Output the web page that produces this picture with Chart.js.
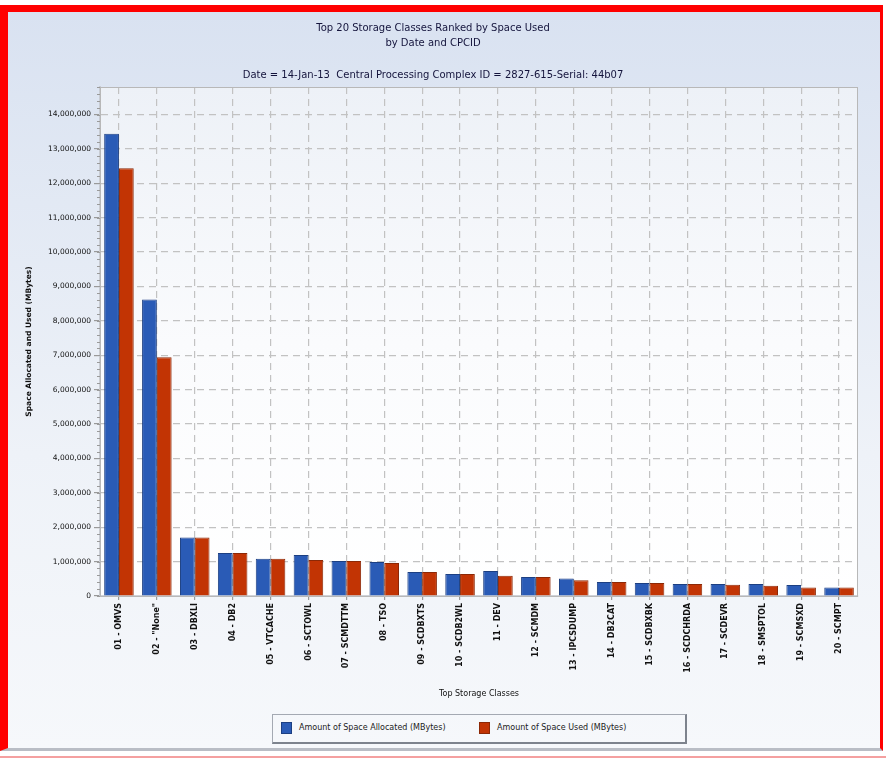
<!DOCTYPE html>
<html>
<head>
<meta charset="utf-8">
<script src="https://cdn.jsdelivr.net/npm/chart.js@4/dist/chart.umd.min.js"></script>
<style>
    body { margin: 0; background: #fff; width: 886px; height: 759px; overflow: hidden; position: relative; }
    #frame {
        position: absolute; left: 0; top: 5px; width: 883px; height: 746px; box-sizing: border-box;
        border-left: 8px solid #f00; border-top: 7px solid #f00; border-right: 3px solid #f00;
        border-bottom: 3px solid #b9bdc5;
        background: linear-gradient(#d9e2f1, #eef2f8 60%, #f6f8fb);
    }
    #chart { position: absolute; left: 0; top: 0; }
    #pink { position: absolute; left: 0; top: 756px; width: 886px; height: 2px; background: #f4a0a0; }
    #legend {
        position: absolute; left: 264px; top: 702px; width: 412px; height: 27px;
        border: 1px solid #a4a9b2; border-right: 2px solid #7d838d; border-bottom: 2px solid #7d838d;
        font: 8px "DejaVu Sans", sans-serif; color: #222;
    }
    .item { position: absolute; top: 6px; height: 13px; line-height: 13px; }
    .box { display: inline-block; width: 11px; height: 12px; vertical-align: middle; margin-right: 7px; box-sizing: border-box; }
</style>
</head>
<body>
<div id="frame">
    <canvas id="chart" width="872" height="700"></canvas>
    <div id="legend">
        <div class="item" style="left:8px"><span class="box" style="background:#2a5bb6;border:1px solid #1c3f82"></span>Amount of Space Allocated (MBytes)</div>
        <div class="item" style="left:206px"><span class="box" style="background:#c23404;border:1px solid #8c2806"></span>Amount of Space Used (MBytes)</div>
    </div>
</div>
<div id="pink"></div>
<script>
    const storageClasses = [
        '01 - OMVS', '02 - "None"', '03 - DBXLI', '04 - DB2', '05 - VTCACHE',
        '06 - SCTOWL', '07 - SCMDTTM', '08 - TSO', '09 - SCDBXTS', '10 - SCDB2WL',
        '11 - DEV', '12 - SCMDM', '13 - IPCSDUMP', '14 - DB2CAT', '15 - SCDBXBK',
        '16 - SCDCHRDA', '17 - SCDEVR', '18 - SMSPTOL', '19 - SCMSXD', '20 - SCMPT'
    ];
    const spaceAllocated = [13440000, 8620000, 1700000, 1250000, 1080000, 1190000, 1020000, 990000, 700000, 640000,
        730000, 550000, 510000, 410000, 380000, 350000, 350000, 350000, 320000, 250000];
    const spaceUsed = [12440000, 6940000, 1700000, 1250000, 1080000, 1050000, 1020000, 960000, 700000, 640000,
        590000, 550000, 460000, 410000, 380000, 350000, 330000, 300000, 250000, 250000];
    const yTickValues = [0, 1000000, 2000000, 3000000, 4000000, 5000000, 6000000, 7000000,
        8000000, 9000000, 10000000, 11000000, 12000000, 13000000, 14000000];

    const titleColor = '#14143c';
    const gridColor = '#c2c2c2';

    // plot background gradient + frame + minor ticks on the y axis
    const plotDecor = {
        id: 'plotDecor',
        beforeDraw(chart) {
            const {ctx, chartArea: a} = chart;
            const g = ctx.createLinearGradient(0, a.top, 0, a.bottom);
            g.addColorStop(0, '#edf1f7');
            g.addColorStop(0.5, '#fafbfd');
            g.addColorStop(1, '#ffffff');
            ctx.save();
            ctx.fillStyle = g;
            ctx.fillRect(a.left, a.top, a.right - a.left, a.bottom - a.top);
            ctx.restore();
        },
        afterDraw(chart) {
            const {ctx, chartArea: a} = chart;
            const y = chart.scales.y;
            ctx.save();
            ctx.strokeStyle = '#b8b8b8';
            ctx.lineWidth = 1;
            ctx.strokeRect(a.left + 0.5, a.top + 0.5, a.right - a.left - 1, a.bottom - a.top);
            ctx.strokeStyle = '#9a9a9a';
            ctx.beginPath();
            for (let v = 0; v <= y.max; v += 200000) {
                const py = Math.round(y.getPixelForValue(v)) + 0.5;
                ctx.moveTo(a.left - 3, py);
                ctx.lineTo(a.left, py);
            }
            ctx.stroke();
            ctx.restore();
        }
    };

    new Chart(document.getElementById('chart'), {
        type: 'bar',
        data: {
            labels: storageClasses,
            datasets: [{
                label: 'Amount of Space Allocated (MBytes)',
                data: spaceAllocated,
                backgroundColor: '#2a5bb6',
                borderColor: '#1c3f82',
                borderWidth: 1,
                barPercentage: 1,
                categoryPercentage: 0.78
            }, {
                label: 'Amount of Space Used (MBytes)',
                data: spaceUsed,
                backgroundColor: '#c23404',
                borderColor: '#8c2806',
                borderWidth: 1,
                barPercentage: 1,
                categoryPercentage: 0.78
            }]
        },
        options: {
            responsive: false,
            animation: false,
            layout: {padding: {right: 22, left: 0, top: 0, bottom: 0}},
            plugins: {
                legend: {display: false},
                tooltip: {enabled: false},
                title: {
                    display: true,
                    text: ['Top 20 Storage Classes Ranked by Space Used', 'by Date and CPCID'],
                    color: titleColor,
                    font: {family: 'DejaVu Sans', size: 10, weight: 'normal', lineHeight: 1.5},
                    padding: {top: 9, bottom: 17}
                },
                subtitle: {
                    display: true,
                    text: 'Date = 14-Jan-13  Central Processing Complex ID = 2827-615-Serial: 44b07',
                    color: titleColor,
                    font: {family: 'DejaVu Sans', size: 10, lineHeight: 1.5},
                    padding: {top: 0, bottom: 4}
                }
            },
            scales: {
                x: {
                    afterFit(scale) {
                        scale.height = 116;
                    },
                    grid: {
                        offset: false,
                        color: gridColor,
                        tickColor: '#999',
                        tickLength: 4,
                        lineWidth: 1.2
                    },
                    border: {display: true, color: '#cfd2d8', width: 2, dash: [7, 5]},
                    ticks: {
                        autoSkip: false,
                        minRotation: 90,
                        maxRotation: 90,
                        padding: 3,
                        color: '#111',
                        font: {family: 'DejaVu Sans', size: 8, weight: 'bold'}
                    },
                    title: {
                        display: true,
                        text: 'Top Storage Classes',
                        color: '#111',
                        font: {family: 'DejaVu Sans', size: 8},
                        padding: {top: 0, bottom: 13}
                    }
                },
                y: {
                    min: 0,
                    max: 14800000,
                    afterFit(scale) {
                        scale.width = 92;
                    },
                    afterBuildTicks(scale) {
                        scale.ticks = yTickValues.map(v => ({value: v}));
                    },
                    grid: {
                        color: gridColor,
                        tickColor: '#999',
                        tickLength: 6,
                        lineWidth: 1.2
                    },
                    border: {display: true, color: '#c8ccd3', width: 2, dash: [7, 5]},
                    ticks: {
                        padding: 3,
                        color: '#111',
                        font: {family: 'DejaVu Sans', size: 7.5},
                        callback: v => v.toLocaleString('en-US')
                    },
                    title: {
                        display: true,
                        text: 'Space Allocated and Used (MBytes)',
                        color: '#111',
                        font: {family: 'DejaVu Sans', size: 7.5, weight: 'bold'},
                        padding: {top: 17, bottom: 0}
                    }
                }
            }
        },
        plugins: [plotDecor]
    });
</script>
</body>
</html>
